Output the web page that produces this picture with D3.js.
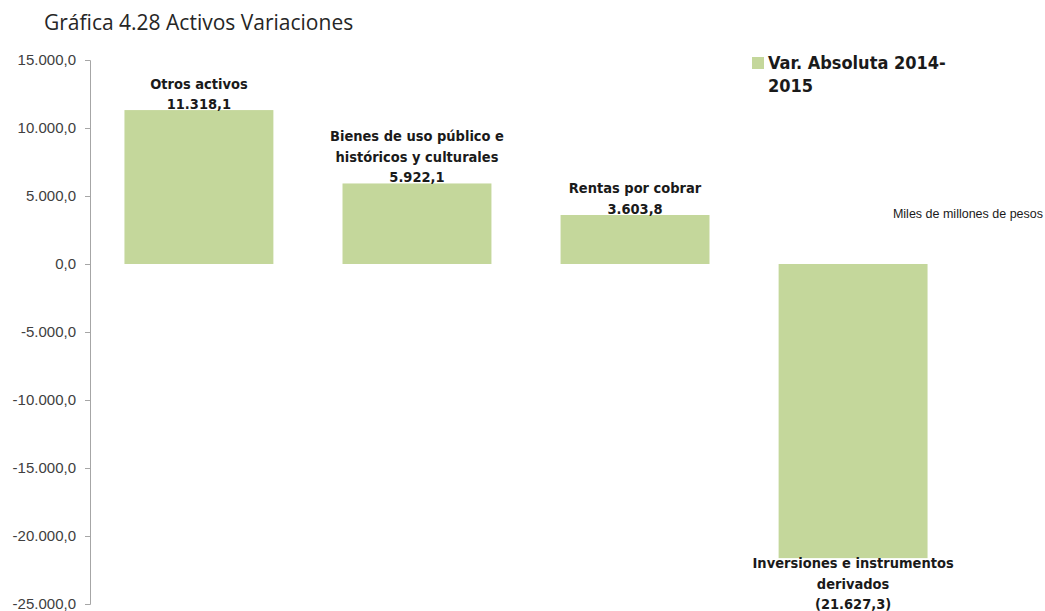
<!DOCTYPE html>
<html>
<head>
<meta charset="utf-8">
<script src="https://cdn.jsdelivr.net/npm/d3@7"></script>
<style>
  html, body { margin: 0; padding: 0; background: #fff; }
  svg { display: block; }
</style>
</head>
<body>
<svg id="chart" width="1045" height="611"></svg>
<script>
// Variación absoluta 2014-2015 por rubro del activo (miles de millones de pesos)
const categories = [
  ["Otros activos"],
  ["Bienes de uso público e", "históricos y culturales"],
  ["Rentas por cobrar"],
  ["Inversiones e instrumentos", "derivados"]
];
const values = [11318.1, 5922.1, 3603.8, -21627.3];
const yTicks = [15000, 10000, 5000, 0, -5000, -10000, -15000, -20000, -25000];
const title = "Gráfica 4.28 Activos Variaciones";
const seriesName = ["Var. Absoluta 2014-", "2015"];
const unitNote = "Miles de millones de pesos";

const barColor = "#c4d79b";
const es = d3.formatLocale({ decimal: ",", thousands: ".", grouping: [3], currency: ["$", ""], minus: "-" });
const fmt = es.format(",.1f");
const valueLabel = v => v < 0 ? "(" + fmt(-v) + ")" : fmt(v);

const svg = d3.select("#chart");
const labelFont = "'DejaVu Sans Condensed', 'DejaVu Sans', sans-serif";

const x = d3.scaleBand().domain(d3.range(values.length)).range([90, 962]).paddingInner(0.317).paddingOuter(0.158);
const y = d3.scaleLinear().domain([-25000, 15000]).range([604, 60]);

// title
svg.append("text")
  .attr("x", 44).attr("y", 30)
  .attr("font-family", "'Open Sans', sans-serif")
  .attr("font-size", 21)
  .attr("fill", "#262626")
  .text(title);

// y axis
const yAxis = d3.axisLeft(y).tickValues(yTicks).tickSize(5).tickPadding(9).tickFormat(fmt);
const ag = svg.append("g").attr("transform", "translate(90,0)").call(yAxis);
ag.select(".domain").attr("stroke", "#a6a6a6");
ag.selectAll(".tick line").attr("stroke", "#a6a6a6");
ag.selectAll(".tick text")
  .attr("font-family", "'Liberation Sans', Arial, sans-serif")
  .attr("font-size", 15)
  .attr("fill", "#404040");

// bars
svg.append("g").selectAll("rect")
  .data(values)
  .join("rect")
  .attr("x", (d, i) => x(i))
  .attr("width", x.bandwidth())
  .attr("y", d => y(Math.max(0, d)))
  .attr("height", d => Math.abs(y(d) - y(0)))
  .attr("fill", barColor);

// category + value labels
const lineH = 20.5;
values.forEach((v, i) => {
  const cx = x(i) + x.bandwidth() / 2;
  const lines = categories[i].concat([valueLabel(v)]);
  let baseY;
  if (v >= 0) {
    // stacked above the bar; last line sits on the bar top
    baseY = y(v) - 1 - (lines.length - 1) * lineH;
  } else {
    // hung under the bar end
    baseY = y(v) + 10;
  }
  const t = svg.append("text")
    .attr("text-anchor", "middle")
    .attr("font-family", labelFont)
    .attr("font-weight", "bold")
    .attr("font-size", 14.5)
    .attr("fill", "#1a1a1a");
  lines.forEach((ln, k) => {
    t.append("tspan").attr("x", cx).attr("y", baseY + k * lineH).text(ln);
  });
});

// legend
const lg = svg.append("g");
lg.append("rect").attr("x", 752).attr("y", 57).attr("width", 12).attr("height", 12).attr("fill", barColor);
const lt = lg.append("text")
  .attr("font-family", labelFont)
  .attr("font-weight", "bold")
  .attr("font-size", 18)
  .attr("fill", "#1a1a1a");
seriesName.forEach((s, k) => lt.append("tspan").attr("x", 768).attr("y", 69 + k * 23).text(s));

// unit note
svg.append("text")
  .attr("x", 1043).attr("y", 218)
  .attr("text-anchor", "end")
  .attr("font-family", "'Liberation Sans', Arial, sans-serif")
  .attr("font-size", 12.5)
  .attr("fill", "#1a1a1a")
  .text(unitNote);
</script>
</body>
</html>
